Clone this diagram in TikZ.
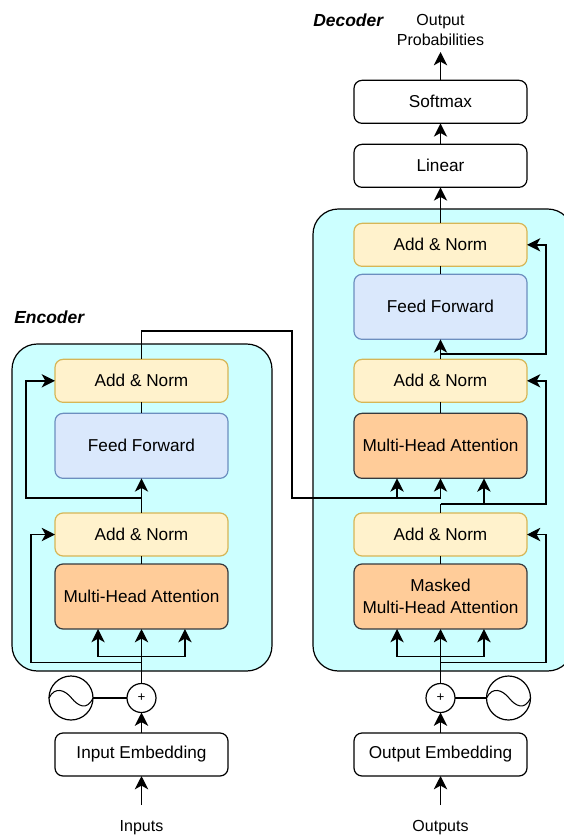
\documentclass[tikz,border=0pt]{standalone}
\usepackage{fontspec}
\setmainfont{Liberation Sans}
\usetikzlibrary{positioning}
\usetikzlibrary{arrows.meta}
\definecolor{stackfill}{HTML}{CCFFFF}
\definecolor{normfill}{HTML}{FFF2CC}
\definecolor{normline}{HTML}{D6B656}
\definecolor{feedfill}{HTML}{DAE8FC}
\definecolor{feedline}{HTML}{6C8EBF}
\definecolor{attnfill}{HTML}{FFCC99}
\definecolor{attnline}{HTML}{36393D}
\tikzset{block/.style={draw,rounded corners=6pt,line width=0.9pt,outer sep=0pt,minimum width=129.75pt,minimum height=32.25pt,inner sep=0pt,align=center,font=\fontsize{12.9}{16}\selectfont},
         tallblock/.style={block,minimum height=48.75pt},
         addnorm/.style={block,fill=normfill,draw=normline},
         feedfwd/.style={tallblock,fill=feedfill,draw=feedline},
         attn/.style={tallblock,fill=attnfill,draw=attnline},
         stack/.style={draw,fill=stackfill,rounded corners=19pt,line width=0.9pt},
         flow/.style={line width=1pt,-{Stealth[length=10pt,width=10pt,inset=2.8pt]}},
         wire/.style={line width=1pt},
         sumnode/.style={draw,circle,fill=white,line width=0.9pt,outer sep=0pt,minimum size=21.75pt,inner sep=0pt,font=\fontsize{10}{12}\selectfont},
         posnode/.style={draw,circle,line width=0.9pt,outer sep=0pt,minimum size=33pt,inner sep=0pt},
         caption/.style={font=\fontsize{12}{15}\selectfont,align=center},
         title/.style={font=\fontsize{13.1}{15}\selectfont\bfseries\itshape,anchor=west,inner sep=0pt},
         }
\begin{document}
\begin{tikzpicture}[x=0.75pt,y=-0.75pt]
\clip (0,0) rectangle (564,836);
% stacks
\draw[stack] (12,344) rectangle (272,671);
\draw[stack] (313,209) rectangle (573,671);
\node[title] (enctitle) at (14,317) {Encoder};
\node[title] (dectitle) at (313,20) {Decoder};
% encoder
\node[block] (inembed) at (141.5,754.5) {Input Embedding};
\node[attn,above=78pt of inembed] (encattn) {Multi-Head Attention};
\node[addnorm,above=6pt of encattn] (encnorma) {Add \& Norm};
\node[feedfwd,above=26pt of encnorma] (encfeed) {Feed Forward};
\node[addnorm,above=8.25pt of encfeed] (encnormb) {Add \& Norm};
\node[sumnode] (encsum) at (141.5,698) {+};
\node[posnode] (encpos) at (71,698) {};
\node[caption] (inputs) at (141.5,828) {Inputs};
% decoder
\node[block] (outembed) at (440.5,754.5) {Output Embedding};
\node[attn,above=78pt of outembed] (maskattn) {Masked\\Multi-Head Attention};
\node[addnorm,above=6pt of maskattn] (decnorma) {Add \& Norm};
\node[attn,above=26pt of decnorma] (decattn) {Multi-Head Attention};
\node[addnorm,above=8.25pt of decattn] (decnormb) {Add \& Norm};
\node[feedfwd,above=15pt of decnormb] (decfeed) {Feed Forward};
\node[addnorm,above=6pt of decfeed] (decnormc) {Add \& Norm};
\node[block,above=27pt of decnormc] (linear) {Linear};
\node[block,above=15.75pt of linear] (softmax) {Softmax};
\node[sumnode] (decsum) at (440.5,698) {+};
\node[posnode] (decpos) at (508.5,698) {};
\node[caption] (outputs) at (440.5,828) {Outputs};
\node[caption] (probs) at (440.5,30) {Output\\Probabilities};
% free ends
\coordinate (instart) at (141.5,805);
\coordinate (outstart) at (440.5,805);
\coordinate (probend) at (440.5,52);
\coordinate (encfork) at (141.5,656.5);
\coordinate (encskipa) at (141.5,662.5);
\coordinate (encskipb) at (141.5,498);
\coordinate (decfork) at (440.5,656.5);
\coordinate (decskipa) at (440.5,662.5);
\coordinate (decskipb) at (440.5,504);
\coordinate (decskipc) at (440.5,354);
\coordinate (bridgea) at (292,331);
\coordinate (bridgeb) at (292,498);
\coordinate (bridgec) at (440.5,498);
\coordinate (decattnl) at ([xshift=-32.6pt]decattn.south);
\coordinate (decattnr) at ([xshift=32.6pt]decattn.south);
% sine waves
\draw[line width=0.8pt] (encpos.west) .. controls (55,686) and (65,690) .. (71.5,698) .. controls (78,706) and (87,711) .. (encpos.east);
\draw[line width=0.8pt] (decpos.west) .. controls (492.5,686) and (502.5,690) .. (509,698) .. controls (515.5,706) and (524.5,711) .. (decpos.east);
% encoder connectors
\draw[flow] (instart) -- (inembed);
\draw[flow] (inembed) -- (encsum);
\draw[line width=0.8pt] (encpos) -- (encsum);
\draw[flow] (encsum) -- (encattn);
\draw[flow] (encfork) -| ([xshift=-32.6pt]encattn.south);
\draw[flow] (encfork) -| ([xshift=32.6pt]encattn.south);
\draw[flow] (encskipa) -| ([xshift=-82.9pt]encskipb |- encnorma.west) -- (encnorma.west);
\draw[wire] (encattn) -- (encnorma);
\draw[flow] (encnorma) -- (encfeed);
\draw[flow] (encskipb) -| ([xshift=-86.6pt]encskipb |- encnormb.west) -- (encnormb.west);
\draw[wire] (encfeed) -- (encnormb);
\draw[wire] (encnormb.north) |- (bridgea) -- (bridgeb) -- (bridgec);
% decoder connectors
\draw[flow] (outstart) -- (outembed);
\draw[flow] (outembed) -- (decsum);
\draw[line width=0.8pt] (decpos) -- (decsum);
\draw[flow] (decsum) -- (maskattn);
\draw[flow] (decfork) -| ([xshift=-32.6pt]maskattn.south);
\draw[flow] (decfork) -| ([xshift=32.6pt]maskattn.south);
\draw[flow] (decskipa) -| ([xshift=79.1pt]decskipa |- decnorma.east) -- (decnorma.east);
\draw[wire] (maskattn) -- (decnorma);
\draw[wire] (decnorma) -- (decskipb);
\draw[flow] (decskipb) -| ([xshift=79.1pt]decskipb |- decnormb.east) -- (decnormb.east);
\draw[flow] (decskipb -| decattnr) -- (decattnr);
\draw[flow] (bridgec) -- (decattn);
\draw[flow] (bridgec -| decattnl) -- (decattnl);
\draw[wire] (decattn) -- (decnormb);
\draw[flow] (decnormb) -- (decfeed);
\draw[flow] (decskipc) -| ([xshift=79.1pt]decskipc |- decnormc.east) -- (decnormc.east);
\draw[wire] (decfeed) -- (decnormc);
\draw[flow] (decnormc) -- (linear);
\draw[flow] (linear) -- (softmax);
\draw[flow] (softmax) -- (probend);
\end{tikzpicture}
\end{document}
